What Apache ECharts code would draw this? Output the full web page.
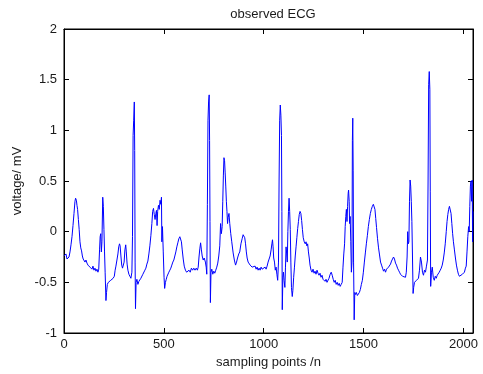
<!DOCTYPE html>
<html>
<head>
<meta charset="utf-8">
<script src="https://cdn.jsdelivr.net/npm/echarts@6/dist/echarts.min.js"></script>
<style>
html,body{margin:0;padding:0;background:#fff;}
#chart{width:483px;height:374px;}
</style>
</head>
<body>
<div id="chart"></div>
<script>
const titleText = "observed ECG";
const xAxisName = "sampling points /n";
const yAxisName = "voltage/ mV";
const xTicks = [0, 500, 1000, 1500, 2000];
const yTicks = [-1, -0.5, 0, 0.5, 1, 1.5, 2];

const sampleIdx = [
0,5,10,15,20,25,30,35,40,45,50,55,58,62,65,68,72,76,80,84,88,92,96,100,105,110,115,120,125,130,135,140,145,150,155,160,165,170,174,178,181,184,187,190,194,197,200,203,206,210,213,217,222,228,234,240,246,252,256,260,265,270,274,278,281,285,289,293,297,301,305,309,312,316,320,325,330,335,340,343,346,349,352,354,356,358,361,365,370,375,380,385,390,395,400,405,410,415,420,425,430,435,440,444,448,452,456,460,463,466,469,473,477,481,485,488,490,493,497,501,504,508,512,516,520,525,530,535,540,545,550,555,560,565,570,575,580,584,588,592,597,602,608,614,620,626,632,638,644,650,656,662,668,672,676,680,684,688,692,697,702,708,712,715,718,721,724,727,729,731,733,736,740,745,750,755,760,765,770,775,780,784,788,792,795,798,801,804,807,810,813,816,819,822,826,830,835,840,847,853,859,864,869,875,880,886,892,897,901,905,909,913,917,922,927,932,937,942,947,952,957,962,967,972,977,982,987,992,997,1002,1007,1012,1017,1022,1027,1032,1037,1041,1044,1047,1050,1054,1058,1062,1066,1070,1074,1077,1080,1083,1086,1089,1091,1093,1096,1099,1102,1106,1109,1112,1115,1118,1121,1124,1127,1130,1133,1136,1139,1143,1146,1150,1154,1158,1162,1166,1170,1174,1178,1182,1186,1190,1194,1198,1203,1208,1212,1216,1220,1224,1228,1232,1237,1242,1247,1252,1257,1262,1267,1272,1277,1282,1287,1292,1297,1302,1307,1312,1317,1322,1327,1333,1338,1343,1348,1353,1358,1363,1368,1373,1378,1383,1388,1393,1397,1401,1405,1408,1411,1414,1417,1420,1423,1425,1428,1430,1433,1436,1439,1442,1444,1446,1448,1450,1453,1456,1460,1464,1469,1474,1479,1484,1489,1494,1499,1504,1509,1514,1519,1524,1529,1534,1539,1544,1549,1553,1557,1561,1565,1570,1575,1580,1585,1590,1595,1600,1605,1610,1615,1620,1625,1630,1635,1640,1645,1650,1655,1660,1665,1670,1675,1680,1685,1690,1695,1700,1705,1710,1714,1718,1721,1724,1727,1730,1733,1736,1739,1742,1745,1748,1751,1755,1760,1765,1770,1775,1780,1785,1790,1795,1800,1805,1810,1815,1820,1823,1826,1829,1832,1834,1836,1840,1844,1849,1854,1859,1864,1869,1874,1879,1884,1889,1894,1899,1904,1909,1914,1918,1922,1926,1930,1934,1938,1942,1946,1950,1955,1960,1965,1970,1975,1980,1985,1990,1995,2000,2005,2010,2014,2018,2022,2026,2029,2032,2035,2038,2041,2044,2046,2048
];

const voltage = [
-0.24,-0.25,-0.22,-0.27,-0.28,-0.25,-0.20,-0.13,-0.05,0.06,0.18,0.30,0.33,0.31,0.26,0.22,0.12,0.02,-0.10,-0.16,-0.19,-0.24,-0.27,-0.26,-0.30,-0.28,-0.31,-0.33,-0.32,-0.35,-0.34,-0.37,-0.34,-0.38,-0.36,-0.39,-0.37,-0.40,-0.37,-0.18,-0.05,-0.02,-0.20,-0.10,0.34,0.25,0.02,-0.20,-0.40,-0.68,-0.60,-0.52,-0.50,-0.51,-0.48,-0.49,-0.46,-0.44,-0.38,-0.34,-0.28,-0.22,-0.15,-0.12,-0.14,-0.24,-0.33,-0.36,-0.35,-0.30,-0.18,-0.13,-0.20,-0.32,-0.38,-0.42,-0.44,-0.46,-0.40,-0.05,0.95,1.10,1.28,0.80,-0.30,-0.76,-0.50,-0.47,-0.52,-0.49,-0.50,-0.46,-0.45,-0.42,-0.43,-0.38,-0.36,-0.32,-0.29,-0.22,-0.14,-0.04,0.08,0.20,0.23,0.17,0.12,0.18,0.21,0.06,0.20,0.26,0.22,0.31,0.27,0.34,-0.10,0.05,-0.20,-0.45,-0.56,-0.50,-0.47,-0.44,-0.43,-0.40,-0.38,-0.36,-0.33,-0.30,-0.28,-0.24,-0.20,-0.15,-0.11,-0.07,-0.05,-0.06,-0.10,-0.18,-0.27,-0.34,-0.38,-0.40,-0.41,-0.38,-0.40,-0.36,-0.38,-0.36,-0.38,-0.36,-0.38,-0.35,-0.25,-0.17,-0.11,-0.18,-0.24,-0.28,-0.26,-0.30,-0.35,-0.42,0.27,1.10,1.28,1.35,0.90,0.10,-0.70,-0.40,-0.37,-0.42,-0.39,-0.41,-0.38,-0.35,-0.31,-0.24,-0.14,0.08,-0.02,0.05,0.30,0.55,0.73,0.70,0.58,0.45,0.30,0.20,0.08,0.14,0.18,0.08,-0.02,-0.10,-0.21,-0.28,-0.33,-0.30,-0.26,-0.22,-0.20,-0.12,-0.07,-0.03,-0.02,-0.06,-0.12,-0.20,-0.26,-0.30,-0.31,-0.33,-0.32,-0.35,-0.34,-0.36,-0.34,-0.37,-0.35,-0.38,-0.36,-0.38,-0.35,-0.37,-0.36,-0.38,-0.35,-0.37,-0.34,-0.30,-0.27,-0.24,-0.18,-0.12,-0.08,-0.15,-0.26,-0.30,-0.38,-0.35,-0.42,-0.48,-0.30,0.50,1.10,1.25,1.15,0.95,0.20,-0.77,-0.45,-0.40,-0.48,-0.55,-0.35,-0.15,-0.22,-0.30,0.00,0.20,0.33,0.20,0.02,-0.30,-0.55,-0.64,-0.58,-0.45,-0.35,-0.24,-0.15,-0.06,0.03,0.10,0.17,0.20,0.18,0.11,0.02,-0.06,-0.10,-0.12,-0.10,-0.14,-0.12,-0.20,-0.26,-0.33,-0.38,-0.40,-0.37,-0.41,-0.39,-0.42,-0.38,-0.41,-0.43,-0.41,-0.45,-0.43,-0.47,-0.46,-0.49,-0.47,-0.50,-0.51,-0.46,-0.42,-0.40,-0.43,-0.47,-0.50,-0.48,-0.52,-0.50,-0.53,-0.51,-0.54,-0.52,-0.50,-0.35,-0.22,-0.12,0.05,0.15,0.22,0.10,0.25,0.38,0.41,0.30,0.08,0.15,-0.10,-0.40,-0.30,0.90,1.12,0.60,-0.30,-0.87,-0.60,-0.62,-0.60,-0.63,-0.64,-0.60,-0.57,-0.52,-0.48,-0.40,-0.30,-0.21,-0.12,-0.04,0.05,0.12,0.18,0.22,0.25,0.27,0.28,0.22,0.13,0.04,-0.07,-0.16,-0.23,-0.30,-0.33,-0.36,-0.39,-0.37,-0.40,-0.37,-0.38,-0.35,-0.34,-0.32,-0.29,-0.27,-0.25,-0.27,-0.31,-0.33,-0.36,-0.38,-0.40,-0.42,-0.43,-0.44,-0.45,-0.44,-0.45,-0.40,-0.25,0.00,-0.12,-0.10,0.30,0.51,0.45,0.30,0.10,-0.25,-0.61,-0.55,-0.50,-0.51,-0.48,-0.49,-0.46,-0.38,-0.25,-0.30,-0.40,-0.43,-0.38,-0.40,-0.34,-0.28,0.50,1.45,1.58,1.40,0.40,-0.54,-0.40,-0.35,-0.45,-0.48,-0.44,-0.46,-0.43,-0.42,-0.40,-0.38,-0.36,-0.33,-0.28,-0.21,-0.12,0.00,0.10,0.17,0.22,0.25,0.24,0.18,0.08,-0.02,-0.10,-0.18,-0.26,-0.33,-0.38,-0.42,-0.44,-0.45,-0.44,-0.42,-0.42,-0.40,-0.36,-0.34,-0.20,-0.05,0.05,0.00,0.25,0.45,0.50,0.30,0.51,-0.10,0.20
];

const seriesData = sampleIdx.map((x, i) => [x, voltage[i]]);

const chart = echarts.init(document.getElementById('chart'), null, {renderer: 'canvas'});
const font = '"Liberation Sans", Arial, Helvetica, sans-serif';
const textColor = '#1a1a1a';
const xFmt = v => (xTicks.indexOf(v) >= 0 ? String(v) : '');
const yFmt = v => (yTicks.indexOf(v) >= 0 ? String(v) : '');

chart.setOption({
  animation: false,
  backgroundColor: '#fff',
  title: {
    text: titleText,
    left: 268, top: 3, textAlign: 'center',
    textStyle: {fontFamily: font, fontSize: 13, fontWeight: 'normal', color: textColor}
  },
  grid: {left: 64, right: 10, top: 29, bottom: 41, show: true, borderColor: '#000', borderWidth: 1, containLabel: false},
  xAxis: [
    {
      type: 'value', position: 'bottom', min: 0, max: 2048, interval: 500,
      name: xAxisName, nameLocation: 'middle', nameGap: 21,
      nameTextStyle: {fontFamily: font, fontSize: 13, color: textColor},
      axisLine: {show: true, onZero: false, lineStyle: {color: '#000', width: 1}},
      axisTick: {show: true, inside: true, length: 5, lineStyle: {color: '#000'}},
      axisLabel: {fontFamily: font, fontSize: 13, color: textColor, margin: 5, formatter: xFmt, showMaxLabel: false},
      splitLine: {show: false}
    },
    {
      type: 'value', position: 'top', min: 0, max: 2048, interval: 500,
      axisLine: {show: true, onZero: false, lineStyle: {color: '#000', width: 1}},
      axisTick: {show: true, inside: true, length: 5, lineStyle: {color: '#000'}},
      axisLabel: {show: false},
      splitLine: {show: false}
    }
  ],
  yAxis: [
    {
      type: 'value', position: 'left', min: -1, max: 2, interval: 0.5,
      name: yAxisName, nameLocation: 'middle', nameGap: 33, nameRotate: 90,
      nameTextStyle: {fontFamily: font, fontSize: 13, color: textColor},
      axisLine: {show: true, onZero: false, lineStyle: {color: '#000', width: 1}},
      axisTick: {show: true, inside: true, length: 5, lineStyle: {color: '#000'}},
      axisLabel: {fontFamily: font, fontSize: 13, color: textColor, margin: 7, formatter: yFmt},
      splitLine: {show: false}
    },
    {
      type: 'value', position: 'right', min: -1, max: 2, interval: 0.5,
      axisLine: {show: true, onZero: false, lineStyle: {color: '#000', width: 1}},
      axisTick: {show: true, inside: true, length: 5, lineStyle: {color: '#000'}},
      axisLabel: {show: false},
      splitLine: {show: false}
    }
  ],
  series: [{
    type: 'line',
    xAxisIndex: 0, yAxisIndex: 0,
    data: seriesData,
    showSymbol: false,
    symbol: 'none',
    lineStyle: {color: '#0000ff', width: 1},
    itemStyle: {color: '#0000ff'}
  }]
});
</script>
</body>
</html>
